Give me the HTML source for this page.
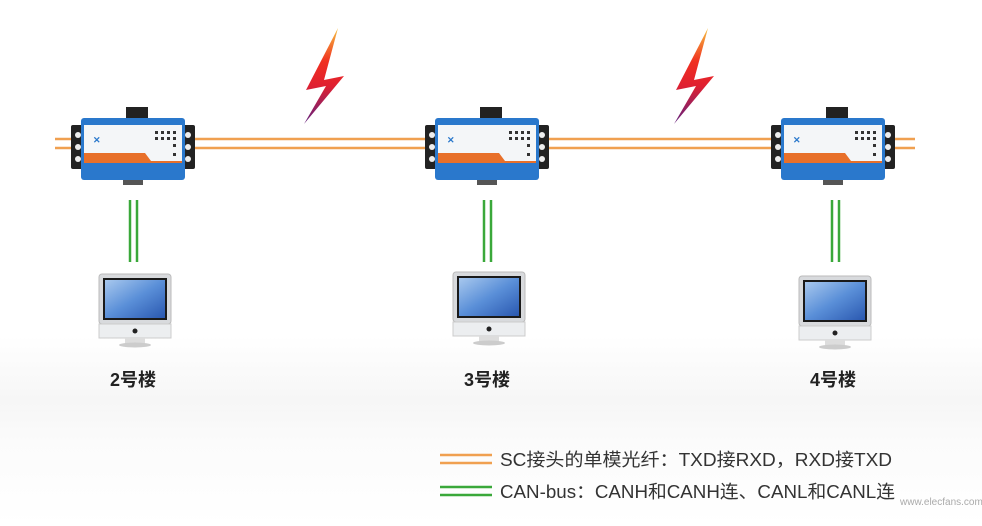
<!DOCTYPE html>
<html><head><meta charset="utf-8"><style>
body{margin:0;background:#fff;}
svg{display:block;}
text{font-family:"Liberation Sans","Noto Sans CJK SC",sans-serif;}
</style></head><body>
<svg width="982" height="526" viewBox="0 0 982 526" xmlns="http://www.w3.org/2000/svg">
<defs>
<linearGradient id="bg" x1="0" y1="0" x2="0" y2="1">
<stop offset="0" stop-color="#fff"/><stop offset="0.64" stop-color="#fff"/><stop offset="0.76" stop-color="#f6f6f6"/><stop offset="0.84" stop-color="#fbfbfb"/><stop offset="1" stop-color="#fff"/></linearGradient>
<linearGradient id="bolt" x1="0" y1="0" x2="0" y2="1">
<stop offset="0" stop-color="#f5c040"/><stop offset="0.35" stop-color="#f03020"/><stop offset="0.6" stop-color="#e02030"/><stop offset="1" stop-color="#602080"/></linearGradient>
<linearGradient id="scr" x1="0" y1="0" x2="1" y2="1">
<stop offset="0" stop-color="#a8c8ee"/><stop offset="0.5" stop-color="#5a8fd8"/><stop offset="1" stop-color="#2a58b0"/></linearGradient>
<g id="dev">
<rect x="-62" y="-20" width="14" height="44" rx="2" fill="#222"/>
<rect x="48" y="-20" width="14" height="44" rx="2" fill="#222"/>
<circle cx="-55" cy="-10" r="3" fill="#eee"/><circle cx="-55" cy="2" r="3" fill="#eee"/><circle cx="-55" cy="14" r="3" fill="#eee"/>
<circle cx="55" cy="-10" r="3" fill="#eee"/><circle cx="55" cy="2" r="3" fill="#eee"/><circle cx="55" cy="14" r="3" fill="#eee"/>
<rect x="-7" y="-38" width="22" height="12" fill="#222"/>
<rect x="-52" y="-27" width="104" height="62" rx="3" fill="#2a78cc"/>
<rect x="-49" y="-20" width="98" height="36" fill="#f4f6f8"/>
<polygon points="-49,8 12,8 18,16 -49,16" fill="#e8702a"/>
<rect x="-49" y="16" width="98" height="2" fill="#e8702a"/>
<text x="-40" y="-2" font-size="9" fill="#2a78cc" font-weight="bold">✕</text>
<g fill="#333"><rect x="22" y="-14" width="3" height="3"/><rect x="28" y="-14" width="3" height="3"/><rect x="34" y="-14" width="3" height="3"/><rect x="40" y="-14" width="3" height="3"/>
<rect x="22" y="-8" width="3" height="3"/><rect x="28" y="-8" width="3" height="3"/><rect x="34" y="-8" width="3" height="3"/><rect x="40" y="-8" width="3" height="3"/>
<rect x="40" y="-1" width="3" height="3"/><rect x="40" y="8" width="3" height="3"/></g>
<rect x="-10" y="35" width="20" height="5" fill="#555"/>
</g>
<g id="mon">
<rect x="0" y="0" width="72" height="50" rx="3" fill="#d8dadd" stroke="#bbb"/>
<rect x="4" y="4" width="64" height="42" fill="#1a1a1a"/>
<rect x="6" y="6" width="60" height="38" fill="url(#scr)"/>
<rect x="0" y="50" width="72" height="14" fill="#eceef0" stroke="#ccc"/>
<circle cx="36" cy="57" r="2.5" fill="#222"/>
<rect x="26" y="64" width="20" height="6" fill="#ddd"/>
<ellipse cx="36" cy="71" rx="16" ry="2.5" fill="#ccc"/>
</g>
<path id="bo" d="M38,0 L6,62 L26,58 L4,96 L44,48 L24,52 Z" fill="url(#bolt)"/>
</defs>
<rect width="982" height="526" fill="url(#bg)"/>
<g stroke="#f0a050" stroke-width="2.5"><line x1="55" y1="139" x2="915" y2="139"/><line x1="55" y1="148" x2="915" y2="148"/></g>
<g stroke="#3aa83a" stroke-width="2.5">
<line x1="130" y1="200" x2="130" y2="262"/><line x1="137" y1="200" x2="137" y2="262"/>
<line x1="484" y1="200" x2="484" y2="262"/><line x1="491" y1="200" x2="491" y2="262"/>
<line x1="832" y1="200" x2="832" y2="262"/><line x1="839" y1="200" x2="839" y2="262"/></g>
<use href="#dev" x="133" y="145"/>
<use href="#dev" x="487" y="145"/>
<use href="#dev" x="833" y="145"/>
<use href="#bo" x="300" y="28"/>
<use href="#bo" x="670" y="28"/>
<use href="#mon" x="99" y="274"/>
<use href="#mon" x="453" y="272"/>
<use href="#mon" x="799" y="276"/>
<g font-size="18" fill="#222" text-anchor="middle" font-weight="bold"><text x="133" y="386">2号楼</text><text x="487" y="386">3号楼</text><text x="833" y="386">4号楼</text></g>
<g stroke="#f0a050" stroke-width="2.5"><line x1="440" y1="455" x2="492" y2="455"/><line x1="440" y1="463" x2="492" y2="463"/></g>
<g stroke="#3aa83a" stroke-width="2.5"><line x1="440" y1="487" x2="492" y2="487"/><line x1="440" y1="495" x2="492" y2="495"/></g>
<g font-size="18" fill="#333"><text x="500" y="466" textLength="392" lengthAdjust="spacingAndGlyphs">SC接头的单模光纤：TXD接RXD，RXD接TXD</text><text x="500" y="498" textLength="395" lengthAdjust="spacingAndGlyphs">CAN-bus：CANH和CANH连、CANL和CANL连</text></g>
<text x="900" y="505" font-size="10" fill="#aaa">www.elecfans.com</text>
</svg>
</body></html>
